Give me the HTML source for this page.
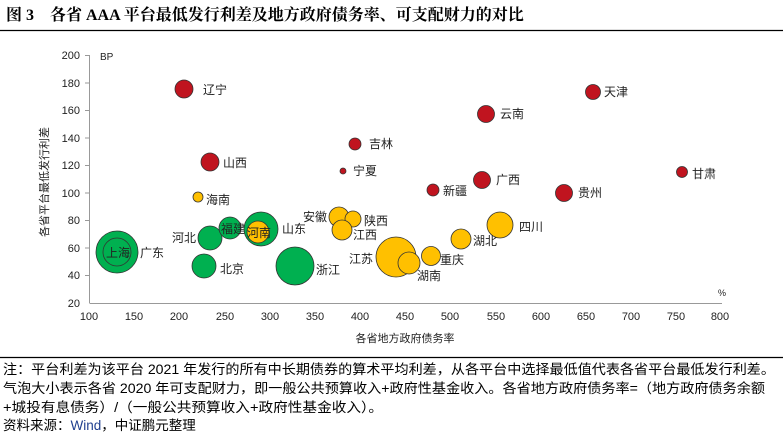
<!DOCTYPE html>
<html><head><meta charset="utf-8"><style>
body{margin:0;background:#fff}
svg text{font-family:"Liberation Sans","Noto Sans CJK SC",sans-serif}
</style></head><body>
<svg width="783" height="437" viewBox="0 0 783 437" xmlns="http://www.w3.org/2000/svg">
<text x="6" y="20" font-size="16" font-weight="bold" style="font-family:'Liberation Serif','Noto Serif CJK SC',serif">图 3　各省 AAA 平台最低发行利差及地方政府债务率、可支配财力的对比</text>
<line x1="0" y1="30.5" x2="783" y2="30.5" stroke="#000" stroke-width="1.2"/>
<g stroke="#999" stroke-width="1" fill="none">
<line x1="89.5" y1="55" x2="89.5" y2="303"/>
<line x1="89.5" y1="303.5" x2="722" y2="303.5"/>
</g>
<g stroke="#999" stroke-width="1">
<line x1="85" y1="55.5" x2="89" y2="55.5"/><line x1="85" y1="83" x2="89" y2="83"/><line x1="85" y1="110.5" x2="89" y2="110.5"/><line x1="85" y1="138" x2="89" y2="138"/><line x1="85" y1="165.5" x2="89" y2="165.5"/><line x1="85" y1="193" x2="89" y2="193"/><line x1="85" y1="220.5" x2="89" y2="220.5"/><line x1="85" y1="248" x2="89" y2="248"/><line x1="85" y1="275.5" x2="89" y2="275.5"/>
</g>
<g font-size="11" fill="#222" text-anchor="end">
<text x="80" y="59">200</text><text x="80" y="87">180</text><text x="80" y="114">160</text><text x="80" y="142">140</text><text x="80" y="169">120</text><text x="80" y="197">100</text><text x="80" y="224">80</text><text x="80" y="252">60</text><text x="80" y="279">40</text><text x="80" y="307">20</text>
</g>
<g font-size="11" fill="#222" text-anchor="middle">
<text x="89" y="320">100</text><text x="134" y="320">150</text><text x="179" y="320">200</text><text x="225" y="320">250</text><text x="270" y="320">300</text><text x="315" y="320">350</text><text x="360" y="320">400</text><text x="405" y="320">450</text><text x="450" y="320">500</text><text x="496" y="320">550</text><text x="541" y="320">600</text><text x="586" y="320">650</text><text x="631" y="320">700</text><text x="676" y="320">750</text><text x="720" y="320">800</text>
</g>
<text x="100" y="60" font-size="10" fill="#222">BP</text>
<text x="718" y="296" font-size="9" fill="#222">%</text>
<text x="405" y="342" font-size="11" fill="#222" text-anchor="middle">各省地方政府债务率</text>
<text transform="translate(48,182) rotate(-90)" font-size="11" fill="#222" text-anchor="middle">各省平台最低发行利差</text>
<g stroke="#333" stroke-width="0.8">
<circle cx="184" cy="89" r="9" fill="#c0141f"/>
<circle cx="210" cy="162" r="9" fill="#c0141f"/>
<circle cx="355" cy="144" r="6" fill="#c0141f"/>
<circle cx="343" cy="171" r="3" fill="#c0141f"/>
<circle cx="433" cy="190" r="6" fill="#c0141f"/>
<circle cx="482" cy="180" r="8.5" fill="#c0141f"/>
<circle cx="486" cy="114" r="8.5" fill="#c0141f"/>
<circle cx="593" cy="92" r="7.5" fill="#c0141f"/>
<circle cx="564" cy="193" r="8.5" fill="#c0141f"/>
<circle cx="682" cy="172" r="5.5" fill="#c0141f"/>
<circle cx="198" cy="197" r="5" fill="#ffc000"/>
<circle cx="117" cy="252" r="21" fill="#00b050"/>
<circle cx="117" cy="252" r="14" fill="#00b050"/>
<circle cx="210" cy="238" r="12" fill="#00b050"/>
<circle cx="204" cy="266" r="12" fill="#00b050"/>
<circle cx="230" cy="228" r="11" fill="#00b050"/>
<circle cx="261" cy="229" r="17" fill="#00b050"/>
<circle cx="258" cy="232" r="11" fill="#ffc000"/>
<circle cx="295" cy="266" r="19" fill="#00b050"/>
<circle cx="339" cy="217" r="10" fill="#ffc000"/>
<circle cx="353" cy="219" r="8" fill="#ffc000"/>
<circle cx="342" cy="230" r="10" fill="#ffc000"/>
<circle cx="396" cy="257" r="20" fill="#ffc000"/>
<circle cx="409" cy="263" r="11" fill="#ffc000"/>
<circle cx="431" cy="256" r="9.5" fill="#ffc000"/>
<circle cx="461" cy="239" r="10" fill="#ffc000"/>
<circle cx="500" cy="225" r="13" fill="#ffc000"/>
</g>
<g font-size="12" fill="#222">
<text x="203" y="94">辽宁</text><text x="223" y="167">山西</text><text x="206" y="204">海南</text>
<text x="106" y="257">上海</text><text x="140" y="257">广东</text><text x="172" y="242">河北</text><text x="220" y="273">北京</text>
<text x="221" y="233">福建</text><text x="247" y="237">河南</text><text x="282" y="233">山东</text><text x="316" y="274">浙江</text>
<text x="369" y="148">吉林</text><text x="353" y="175">宁夏</text><text x="303" y="221">安徽</text><text x="364" y="225">陕西</text><text x="353" y="239">江西</text>
<text x="349" y="263">江苏</text><text x="417" y="280">湖南</text><text x="440" y="264">重庆</text><text x="473" y="245">湖北</text><text x="519" y="231">四川</text>
<text x="443" y="195">新疆</text><text x="496" y="184">广西</text><text x="500" y="118">云南</text><text x="604" y="96">天津</text><text x="578" y="197">贵州</text><text x="692" y="178">甘肃</text>
</g>
<line x1="0" y1="357.5" x2="783" y2="357.5" stroke="#000" stroke-width="1.2"/>
<g font-size="13.5" fill="#000" style="font-family:'Liberation Sans','Noto Sans CJK SC',sans-serif">
<text x="3" y="374" textLength="772" lengthAdjust="spacingAndGlyphs">注：平台利差为该平台 2021 年发行的所有中长期债券的算术平均利差，从各平台中选择最低值代表各省平台最低发行利差。</text>
<text x="3" y="393" textLength="762" lengthAdjust="spacingAndGlyphs">气泡大小表示各省 2020 年可支配财力，即一般公共预算收入+政府性基金收入。各省地方政府债务率=（地方政府债务余额</text>
<text x="3" y="412" textLength="380" lengthAdjust="spacingAndGlyphs">+城投有息债务）/（一般公共预算收入+政府性基金收入）。</text>
<text x="3" y="430">资料来源：<tspan fill="#1f3f8f">Wind</tspan>，中证鹏元整理</text>
</g>
</svg>
</body></html>
